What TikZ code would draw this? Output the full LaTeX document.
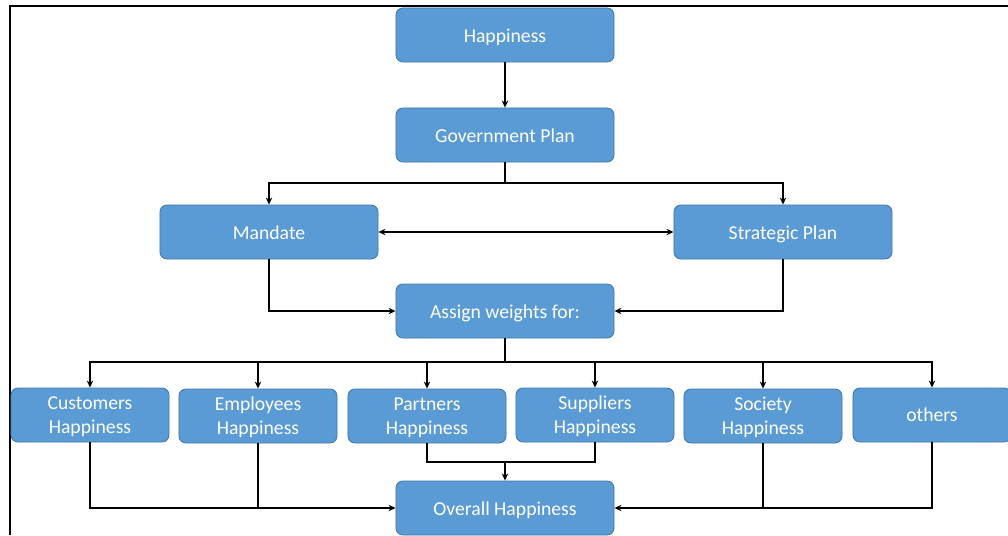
\documentclass[tikz,border=0pt]{standalone}
\usepackage{fontspec}
\setmainfont{Carlito}
\definecolor{boxblue}{RGB}{91, 155, 213}
\definecolor{boxedge}{RGB}{65, 119, 170}
\usetikzlibrary{arrows.meta, positioning, calc}

\begin{document}
\begin{tikzpicture}[x=0.025cm, y=-0.025cm,
  basebox/.style={draw=boxedge, line width=0.6pt, fill=boxblue, rounded corners=5pt, text=white,
    minimum height=1.35cm, align=center, inner sep=2pt,
    font=\fontsize{14}{17}\selectfont},
  stepbox/.style={basebox, minimum width=5.45cm, text height=11.5pt, text depth=1pt},
  groupbox/.style={basebox, minimum width=3.95cm, text depth=0pt},
  link/.style={line width=0.8pt, -{Stealth[length=5pt, width=4.5pt]}},
  duolink/.style={line width=0.8pt, {Stealth[length=5pt, width=4.5pt]}-{Stealth[length=5pt, width=4.5pt]}},
  plain/.style={line width=0.8pt}]
  \useasboundingbox (0,0) rectangle (1008,535);

  % Frame
  \draw[line width=1.4pt] (10,535) -- (10,6) -- (1008,6);

  % Top chain
  \node[stepbox] (happy) at (505,35) {Happiness};
  \node[stepbox] (govplan) at (505,135) {Government Plan};
  \node[stepbox] (mandate) at (269,232) {Mandate};
  \node[stepbox] (stratplan) at (783,232) {Strategic Plan};
  \node[stepbox] (assign) at (505,311) {Assign weights for:};

  \draw[link] (happy) -- (govplan);
  \coordinate (split1) at (505,183);
  \draw[plain] (govplan) -- (split1);
  \draw[link] (split1) -| (mandate);
  \draw[link] (split1) -| (stratplan);
  \draw[duolink] (mandate) -- (stratplan);
  \draw[link] (mandate) |- (assign);
  \draw[link] (stratplan) |- (assign);

  % Happiness groups
  \node[groupbox] (custhap) at (90,415) {Customers\\Happiness};
  \node[groupbox] (emphap) at (258,416) {Employees\\Happiness};
  \node[groupbox] (parthap) at (427,416) {Partners\\Happiness};
  \node[groupbox] (supphap) at (595,415) {Suppliers\\Happiness};
  \node[groupbox] (sochap) at (763,416) {Society\\Happiness};
  \node[groupbox] (others) at (932,415) {others};

  \coordinate (split2) at (505,362);
  \draw[plain] (assign) -- (split2);
  \foreach \g in {custhap, emphap, parthap, supphap, sochap, others}
    \draw[link] (split2) -| (\g);

  % Overall result
  \node[stepbox] (overall) at (505,508) {Overall Happiness};

  \draw[link] (custhap) |- (overall);
  \draw[plain] (emphap) -- (emphap |- overall);
  \draw[link] (others) |- (overall);
  \draw[plain] (sochap) -- (sochap |- overall);
  \coordinate (join) at (505,462);
  \draw[plain] (parthap) |- (join);
  \draw[plain] (supphap) |- (join);
  \draw[link] (join) -- (overall);
\end{tikzpicture}
\end{document}
